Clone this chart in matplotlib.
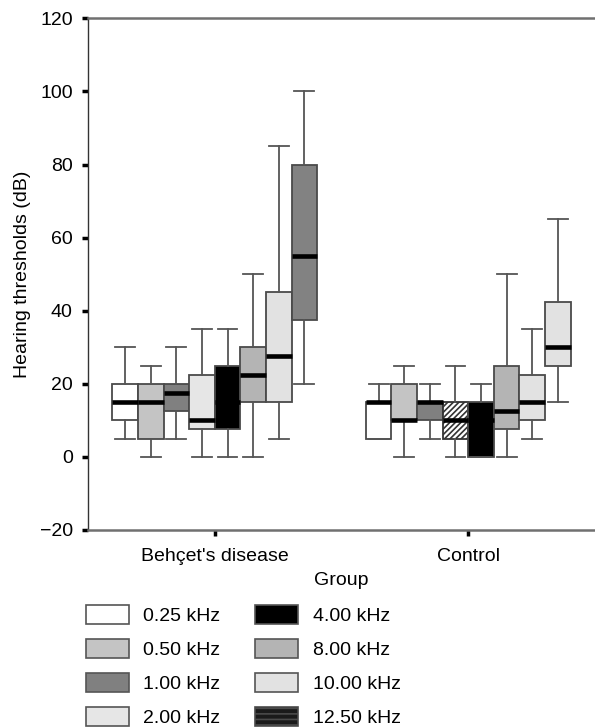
import matplotlib
matplotlib.use('Agg')
import matplotlib.pyplot as plt
from matplotlib.patches import Patch

plt.rcParams['font.family'] = ['Liberation Sans', 'DejaVu Sans']
plt.rcParams['hatch.linewidth'] = 1.2

groups = ["Behçet's disease", "Control"]
freq_labels = ['0.25 kHz', '0.50 kHz', '1.00 kHz', '2.00 kHz',
               '4.00 kHz', '8.00 kHz', '10.00 kHz', '12.50 kHz']

# five-number summaries
behcet_whislo = [5, 0, 5, 0, 0, 0, 5, 20]
behcet_q1 = [10, 5, 12.5, 7.5, 7.5, 15, 15, 37.5]
behcet_med = [15, 15, 17.5, 10, 15, 22.5, 27.5, 55]
behcet_q3 = [20, 20, 20, 22.5, 25, 30, 45, 80]
behcet_whishi = [30, 25, 30, 35, 35, 50, 85, 100]

control_whislo = [5, 0, 5, 0, 0, 0, 5, 15]
control_q1 = [5, 10, 10, 5, 0, 7.5, 10, 25]
control_med = [15, 10, 15, 10, 10, 12.5, 15, 30]
control_q3 = [15, 20, 15, 15, 15, 25, 22.5, 42.5]
control_whishi = [20, 25, 20, 25, 20, 50, 35, 65]

legend_colors = ['#ffffff', '#c4c4c4', '#808080', '#e6e6e6',
                 '#000000', '#b4b4b4', '#e2e2e2', '#1a1a1a']
behcet_colors = ['#ffffff', '#c4c4c4', '#808080', '#e6e6e6',
                 '#000000', '#b4b4b4', '#e2e2e2', '#828282']
control_colors = ['#ffffff', '#c4c4c4', '#808080', '#ffffff',
                  '#000000', '#b4b4b4', '#e2e2e2', '#e2e2e2']
control_hatch = [None, None, None, '//////', None, None, None, None]

fig = plt.figure(figsize=(5.95, 7.27), dpi=100)
ax = fig.add_axes([88/595, 1 - 530/727, 1 - 88/595, (530 - 18.3)/727])

w = 0.101
edge = '#4a4a4a'


def draw_group(center, lo, q1, med, q3, hi, colors, hatches=None):
    stats = []
    for i in range(len(lo)):
        stats.append(dict(whislo=lo[i], q1=q1[i], med=med[i], q3=q3[i],
                          whishi=hi[i], fliers=[]))
    pos = [center + (i - 3.5) * w for i in range(len(lo))]
    bp = ax.bxp(stats, positions=pos, widths=w, patch_artist=True,
                showfliers=False, capwidths=0.078,
                boxprops=dict(edgecolor=edge, linewidth=1.3),
                whiskerprops=dict(color='#555555', linewidth=1.3),
                capprops=dict(color='#555555', linewidth=1.3),
                medianprops=dict(color='black', linewidth=3.3,
                                 solid_capstyle='butt'))
    for i, b in enumerate(bp['boxes']):
        b.set_facecolor(colors[i])
        if hatches and hatches[i]:
            b.set_hatch(hatches[i])
            b.set_edgecolor('#333333')


draw_group(0, behcet_whislo, behcet_q1, behcet_med, behcet_q3,
           behcet_whishi, behcet_colors)
draw_group(1, control_whislo, control_q1, control_med, control_q3,
           control_whishi, control_colors, control_hatch)

ax.set_xlim(-0.5, 1.5)
ax.set_ylim(-20, 120)
ax.set_yticks(range(-20, 121, 20))
ax.set_yticklabels(['\u221220'] + [str(v) for v in range(0, 121, 20)])
ax.set_xticks([0, 1])
ax.set_xticklabels(groups)

ax.tick_params(axis='y', direction='out', length=4, width=2.5,
               color='black', labelsize=14, pad=7)
ax.tick_params(axis='x', direction='out', length=4, width=2.5,
               color='black', labelsize=14, pad=9)

ax.spines['right'].set_visible(False)
ax.spines['left'].set_color('#333333')
ax.spines['left'].set_linewidth(1.0)
ax.spines['top'].set_color('#707070')
ax.spines['top'].set_linewidth(1.8)
ax.spines['bottom'].set_color('#707070')
ax.spines['bottom'].set_linewidth(1.8)

ax.set_ylabel('Hearing thresholds (dB)', fontsize=14)
ax.yaxis.set_label_coords(-0.112, 0.5)
ax.set_xlabel('Group', fontsize=14)
ax.xaxis.set_label_coords(0.5, -0.082)

legend_hatch = [None] * 7 + ['---']
handles = []
for i, lab in enumerate(freq_labels):
    handles.append(Patch(facecolor=legend_colors[i],
                         edgecolor='#555555' if i != 7 else '#4a4a4a',
                         hatch=legend_hatch[i], linewidth=1.2, label=lab))

fig.legend(handles=handles, ncol=2, loc='upper left',
           bbox_to_anchor=(86/595, 1 - 605/727), frameon=False,
           fontsize=14, handlelength=2.2, handleheight=1.1,
           handletextpad=0.75, columnspacing=1.8, labelspacing=0.72,
           borderpad=0, borderaxespad=0)

fig.savefig('out.png', dpi=100)
